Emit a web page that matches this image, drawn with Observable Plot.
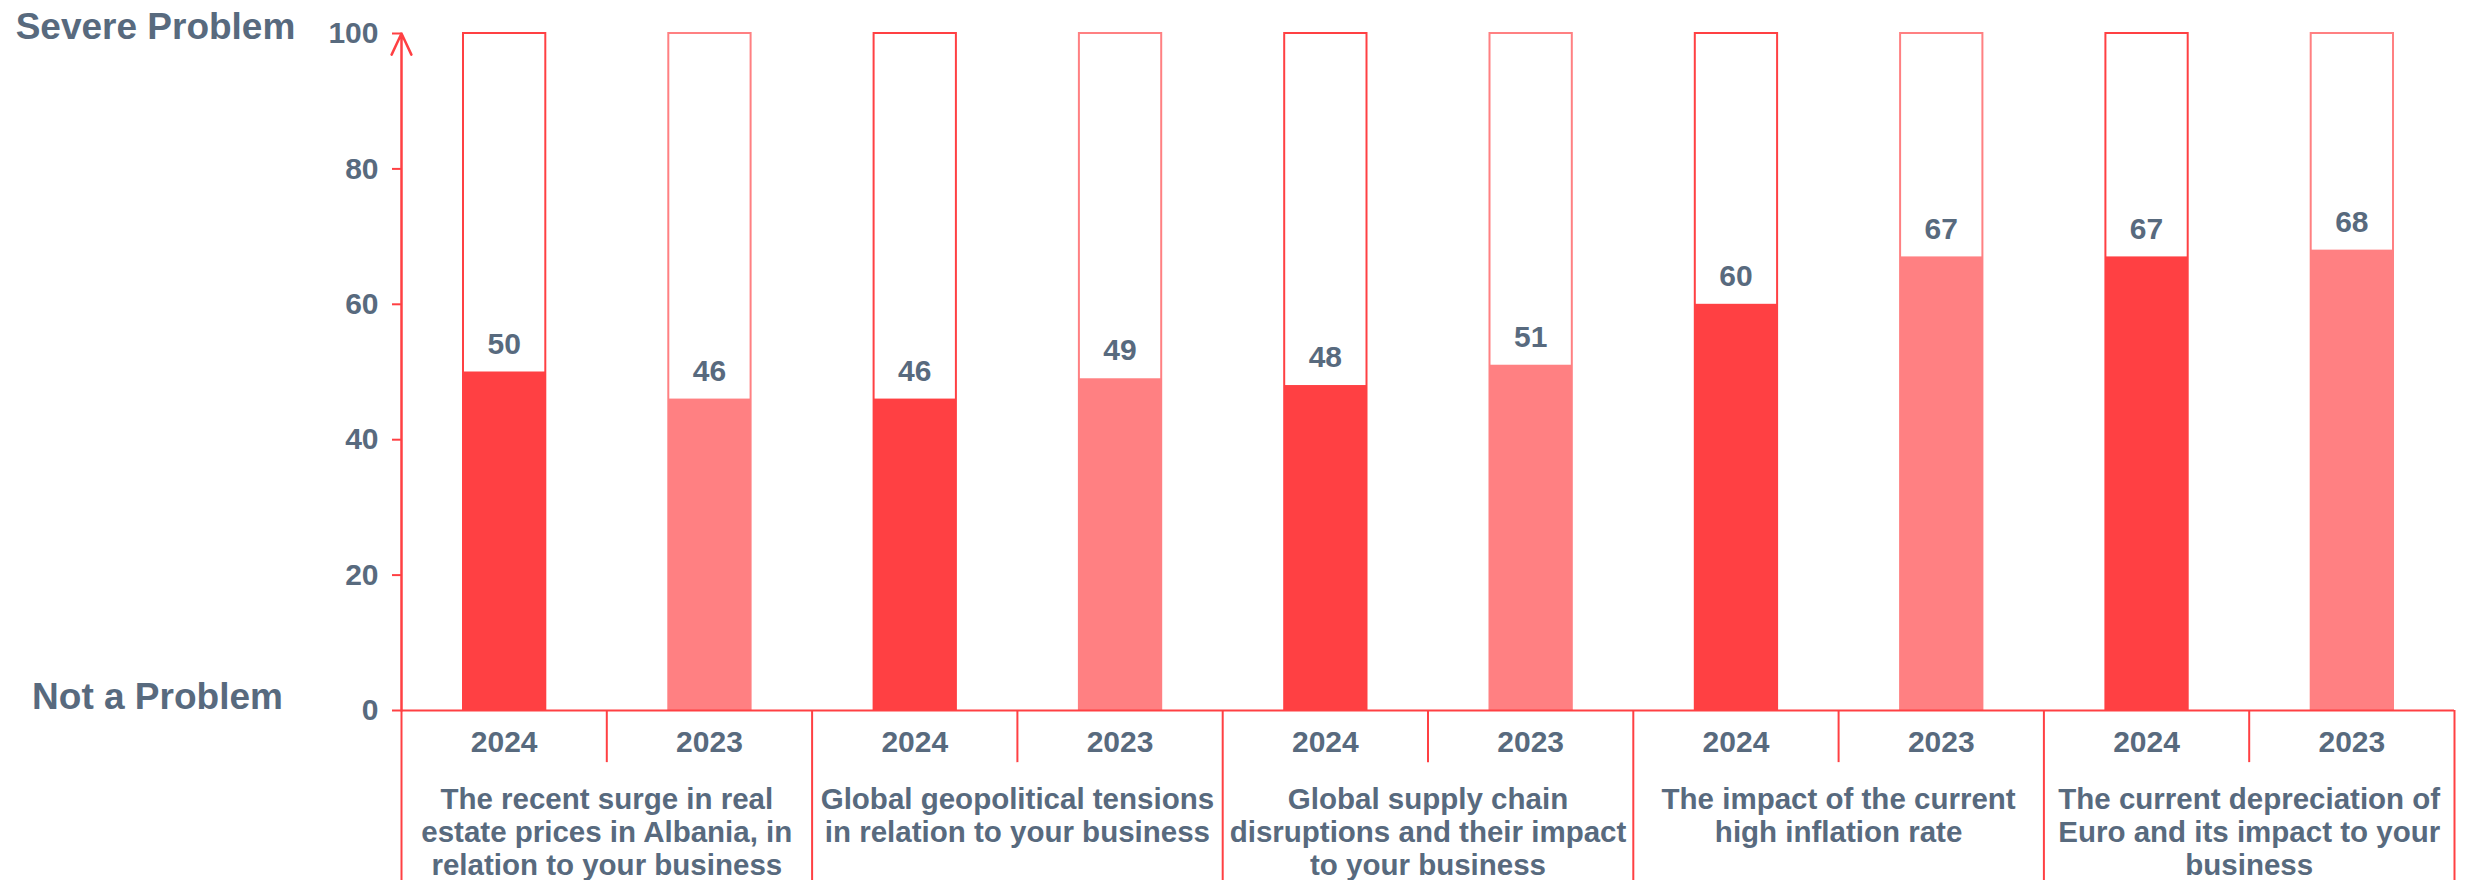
<!DOCTYPE html>
<html>
<head>
<meta charset="utf-8">
<script src="https://cdn.jsdelivr.net/npm/d3@7"></script>
<script src="https://cdn.jsdelivr.net/npm/@observablehq/plot@0.6"></script>
<style>
  html, body { margin: 0; padding: 0; background: #ffffff; }
  #chart { width: 2468px; height: 880px; }
</style>
</head>
<body>
<div id="chart"></div>
<script>
// ---- data ----
const categories = [
  "The recent surge in real\nestate prices in Albania, in\nrelation to your business",
  "Global geopolitical tensions\nin relation to your business",
  "Global supply chain\ndisruptions and their impact\nto your business",
  "The impact of the current\nhigh inflation rate",
  "The current depreciation of\nEuro and its impact to your\nbusiness"
];
const years = ["2024", "2023"];
const values2024 = [50, 46, 48, 60, 67];
const values2023 = [46, 49, 51, 67, 68];
const yTicks = [0, 20, 40, 60, 80, 100];
const scaleLabels = ["Severe Problem", "Not a Problem"];

// ---- styles ----
const RED = "#ff4043";
const PINK = "#ff8082";
const GRAY = "#586a7e";
const FONT = "'Liberation Sans', Arial, Helvetica, sans-serif";

const series = [values2024, values2023];
const rows = [];
categories.forEach((c, g) => {
  years.forEach((yr, j) => {
    rows.push({slot: 2 * g + j, cat: c, year: yr, value: series[j][g]});
  });
});
const groups = categories.map((c, g) => ({cat: c, center: 2 * g + 1}));
const groupEdges = d3.range(0, 2 * categories.length + 1, 2);
const yearEdges = d3.range(1, 2 * categories.length, 2);
const colorOf = d => d.year === "2024" ? RED : PINK;

const chart = Plot.plot({
  width: 2468,
  height: 880,
  marginLeft: 401,
  marginRight: 14,
  marginTop: 33,
  marginBottom: 170,
  style: {fontFamily: FONT, background: "#ffffff", overflow: "visible"},
  x: {type: "linear", domain: [0, 2 * categories.length], axis: null},
  y: {domain: [0, 100], axis: null},
  marks: [
    // outline boxes 0–100
    Plot.rectY(rows, {x1: "slot", x2: d => d.slot + 1, y1: 0, y2: 100,
      fill: "#ffffff", stroke: colorOf, strokeWidth: 2, insetLeft: 62, insetRight: 61}),
    // value bars
    Plot.rectY(rows, {x1: "slot", x2: d => d.slot + 1, y1: 0, y2: "value",
      fill: colorOf, insetLeft: 62, insetRight: 61}),
    // value labels
    Plot.text(rows, {x: d => d.slot + 0.5, y: "value", text: d => String(d.value),
      dy: -28, fill: GRAY, fontSize: 30, fontWeight: "bold", lineAnchor: "middle"}),
    // y axis ticks & labels
    Plot.axisY({ticks: yTicks, tickSize: 9, tickPadding: 14, stroke: RED, strokeWidth: 2,
      fill: GRAY, fontSize: 30, fontWeight: "bold", label: null}),
    // baseline
    Plot.ruleY([0], {stroke: RED, strokeWidth: 2}),
    // y axis line with arrow
    Plot.arrow([0], {x1: 0, x2: 0, y1: 0, y2: 100, stroke: RED, strokeWidth: 2.5,
      headLength: 14, headAngle: 50}),
    // group separators (below axis)
    Plot.ruleX(groupEdges, {y1: 0, y2: -27, stroke: RED, strokeWidth: 2}),
    // year separators (below axis)
    Plot.ruleX(yearEdges, {y1: 0, y2: -7.7, stroke: RED, strokeWidth: 2}),
    // year labels
    Plot.text(rows, {x: d => d.slot + 0.5, y: 0, text: "year", dy: 32,
      fill: GRAY, fontSize: 30, fontWeight: "bold", lineAnchor: "middle"}),
    // category labels
    Plot.text(groups, {x: "center", y: 0, text: "cat", dy: 75, lineAnchor: "top",
      lineHeight: 1.12, fill: GRAY, fontSize: 29.5, fontWeight: "bold"}),
    // scale end labels
    Plot.text([scaleLabels[0]], {y: 100, frameAnchor: "left", dx: -246, dy: -6,
      text: d => d, textAnchor: "middle", fill: GRAY, fontSize: 37, fontWeight: "bold"}),
    Plot.text([scaleLabels[1]], {y: 0, frameAnchor: "left", dx: -244, dy: -13,
      text: d => d, textAnchor: "middle", fill: GRAY, fontSize: 37, fontWeight: "bold"})
  ]
});
document.getElementById("chart").appendChild(chart);
</script>
</body>
</html>
